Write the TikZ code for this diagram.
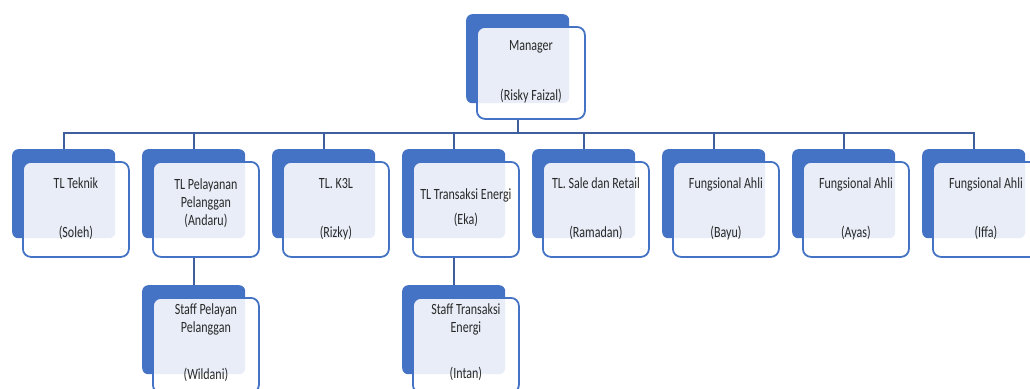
\documentclass[tikz,border=0pt]{standalone}
\usepackage{fontspec}
\setmainfont{Carlito}
\usetikzlibrary{calc,backgrounds}
\definecolor{ob}{RGB}{68,114,196}
\definecolor{ln}{RGB}{62,94,158}
\definecolor{txt}{RGB}{40,40,40}
\tikzset{
  back/.style={fill=ob, rounded corners=6pt, minimum width=103pt, minimum height=89pt,
    inner sep=0pt, anchor=north west},
  front/.style={draw=ob, line width=1.8pt, fill=white, fill opacity=0.88,
    rounded corners=8pt, minimum width=106pt, minimum height=95pt,
    inner sep=0pt, anchor=north west},
  lbl/.style={font=\fontsize{12}{13.6}\selectfont, text=txt, inner sep=0pt},
  link/.style={draw=ln, line width=1.8pt}
}
% text set slightly taller than wide, one or more centred lines
\newcommand{\tall}[1]{\scalebox{1}[1.3]{\begin{tabular}{@{}c@{}}#1\end{tabular}}}
% one chart box: blue backing plate with a lighter card laid over it
\newcommand{\orgbox}[4][]{%
  \node[back] (#2B) at (#3,#4) {};
  \node[front,#1] (#2) at (#3+10,#4+12) {};
}
\begin{document}
\begin{tikzpicture}[x=1pt,y=-1pt]
  \useasboundingbox (0,0) rectangle (1030,388);
  \clip (0,0) rectangle (1030,388);
  \coordinate (bus) at (0,133);

  % boxes
  \orgbox[minimum height=92pt, minimum width=108pt]{mgr}{466}{14}
  \orgbox{t1}{12}{149}
  \orgbox{t2}{142}{149}
  \orgbox{t3}{272}{149}
  \orgbox{t4}{402}{149}
  \orgbox{t5}{532}{149}
  \orgbox{t6}{662}{149}
  \orgbox{t7}{792}{149}
  \orgbox{t8}{922}{149}
  \orgbox{s1}{142}{285}
  \orgbox{s2}{402}{285}

  % connectors, kept underneath the boxes
  \begin{pgfonlayer}{background}
    \foreach \n in {t1,t2,t3,t4,t5,t6,t7,t8}{
      \draw[link] (mgrB.center |- mgr.south) -- (mgrB.center |- bus) -| (\n B.north);
    }
    \draw[link] (t2B.center |- t2.south) -- (s1B.north);
    \draw[link] (t4B.center |- t4.south) -- (s2B.north);
  \end{pgfonlayer}

  % labels
  \node[lbl] (mgrT) at ($(mgr.north)+(0,21)$) {\tall{Manager}};
  \node[lbl] (mgrN) at ($(mgr.north)+(0,71)$) {\tall{(Risky Faizal)}};

  \node[lbl] (t1T) at ($(t1.north)+(0,24)$) {\tall{TL Teknik}};
  \node[lbl] (t1N) at ($(t1.north)+(0,73)$) {\tall{(Soleh)}};
  \node[lbl] (t2T) at ($(t2.north)+(0,34)$) {\tall{TL Pelayanan\\Pelanggan}};
  \node[lbl] (t2N) at ($(t2.north)+(0,61)$) {\tall{(Andaru)}};
  \node[lbl] (t3T) at ($(t3.north)+(0,24)$) {\tall{TL. K3L}};
  \node[lbl] (t3N) at ($(t3.north)+(0,73)$) {\tall{(Rizky)}};
  \node[lbl] (t4T) at ($(t4.north)+(0,35)$) {\tall{TL Transaksi Energi}};
  \node[lbl] (t4N) at ($(t4.north)+(0,60)$) {\tall{(Eka)}};
  \node[lbl] (t5T) at ($(t5.north)+(0,24)$) {\tall{TL. Sale dan Retail}};
  \node[lbl] (t5N) at ($(t5.north)+(0,73)$) {\tall{(Ramadan)}};
  \node[lbl] (t6T) at ($(t6.north)+(0,24)$) {\tall{Fungsional Ahli}};
  \node[lbl] (t6N) at ($(t6.north)+(0,73)$) {\tall{(Bayu)}};
  \node[lbl] (t7T) at ($(t7.north)+(0,24)$) {\tall{Fungsional Ahli}};
  \node[lbl] (t7N) at ($(t7.north)+(0,73)$) {\tall{(Ayas)}};
  \node[lbl] (t8T) at ($(t8.north)+(0,24)$) {\tall{Fungsional Ahli}};
  \node[lbl] (t8N) at ($(t8.north)+(0,73)$) {\tall{(Iffa)}};

  \node[lbl] (s1T) at ($(s1.north)+(0,23)$) {\tall{Staff Pelayan\\Pelanggan}};
  \node[lbl] (s1N) at ($(s1.north)+(0,79)$) {\tall{(Wildani)}};
  \node[lbl] (s2T) at ($(s2.north)+(0,23)$) {\tall{Staff Transaksi\\Energi}};
  \node[lbl] (s2N) at ($(s2.north)+(0,78)$) {\tall{(Intan)}};
\end{tikzpicture}
\end{document}
